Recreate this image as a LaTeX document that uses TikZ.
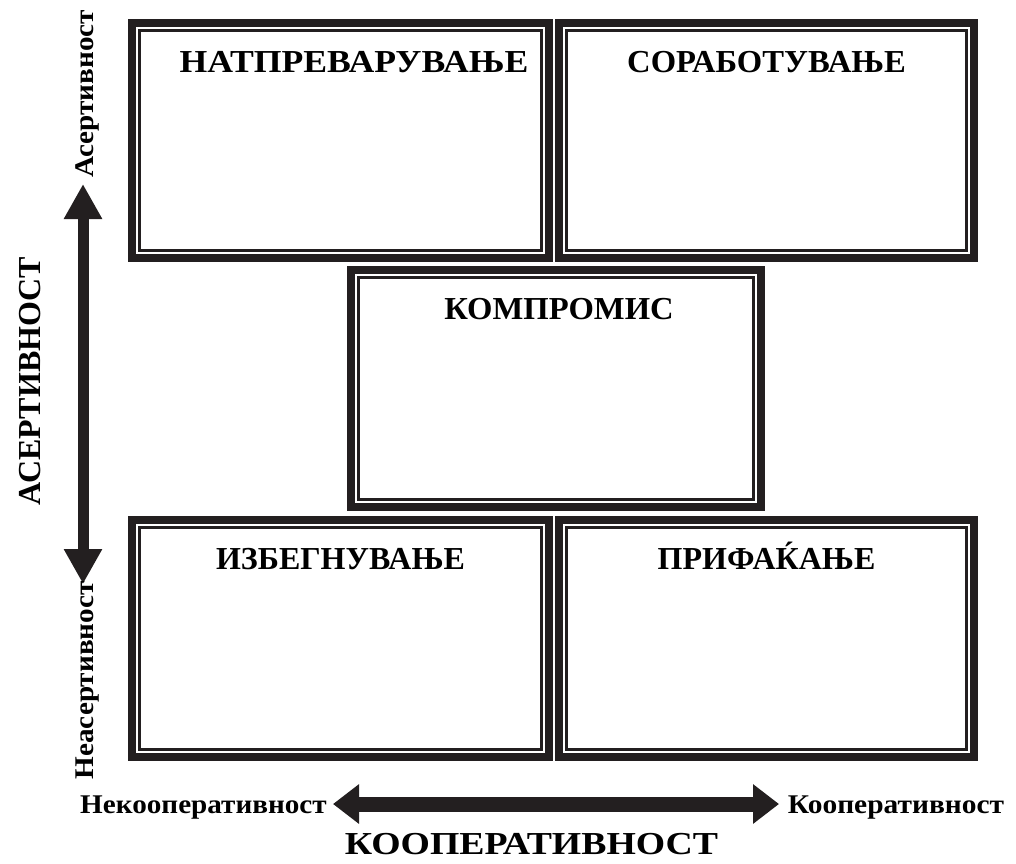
\documentclass[tikz,border=0pt]{standalone}
\usepackage{fontspec}
\setmainfont{Liberation Serif}
\usetikzlibrary{arrows.meta}
\definecolor{ink}{RGB}{35,31,32}
% widen a label along its reading direction
\newcommand\widelabel[2]{\scalebox{#1}[1]{#2}}
\begin{document}
\begin{tikzpicture}[x=1pt,y=-1pt,
  quad/.style={draw=ink, line width=8pt, outer sep=0pt, inner sep=0pt},
  innerline/.style={draw=ink, line width=3pt},
  title/.style={anchor=base, inner sep=0pt, font=\bfseries\fontsize{32}{38}\selectfont},
  smalllabel/.style={anchor=base, inner sep=0pt, font=\bfseries\fontsize{27}{32}\selectfont},
  biglabel/.style={anchor=base, inner sep=0pt, font=\bfseries\fontsize{32}{38}\selectfont},
  varrow/.style={draw=ink, line width=11pt, {Triangle[width=36pt,length=35pt]}-{Triangle[width=36pt,length=35pt]}},
  harrow/.style={draw=ink, line width=15pt, {Triangle[width=38pt,length=26pt]}-{Triangle[width=38pt,length=26pt]}},
]
\useasboundingbox[fill=white] (0,0) rectangle (1016,863);

% the five style boxes
\node[quad, minimum width=417pt, minimum height=235pt] (tl)  at (340.5,140.5) {};
\node[quad, minimum width=415pt, minimum height=235pt] (tr)  at (766.5,140.5) {};
\node[quad, minimum width=410pt, minimum height=237pt] (mid) at (556,388.5) {};
\node[quad, minimum width=417pt, minimum height=237pt] (bl)  at (340.5,638.5) {};
\node[quad, minimum width=415pt, minimum height=237pt] (br)  at (766.5,638.5) {};
\foreach \b in {tl,tr,mid,bl,br}
  \draw[innerline] ([shift={(7.5,7.5)}]\b.north west) rectangle ([shift={(-7.5,-7.5)}]\b.south east);

% box titles
\node[title] (tl-t)  at (354,72)    {\widelabel{1.115}{НАТПРЕВАРУВАЊЕ}};
\node[title] (tr-t)  at (766.5,72)  {\widelabel{1.02}{СОРАБОТУВАЊЕ}};
\node[title] (mid-t) at (559,319)   {\widelabel{1.02}{КОМПРОМИС}};
\node[title] (bl-t)  at (340.5,569) {ИЗБЕГНУВАЊЕ};
\node[title] (br-t)  at (766.5,569) {ПРИФАЌАЊЕ};

% assertiveness axis
\coordinate (v-top) at (83,184);
\coordinate (v-bot) at (83,584);
\draw[varrow] (v-bot) -- (v-top);
\node[smalllabel, rotate=90] (asr)  at (93,94)    {\widelabel{1.08}{Асертивност}};
\node[smalllabel, rotate=90] (nasr) at (93,680.5) {\widelabel{1.08}{Неасертивност}};
\node[biglabel, rotate=90]   (asr-big) at (40,381) {АСЕРТИВНОСТ};

% cooperativeness axis
\coordinate (h-left)  at (333,804);
\coordinate (h-right) at (779,804);
\draw[harrow] (h-left) -- (h-right);
\node[smalllabel] (nco) at (203.5,813) {\widelabel{1.08}{Некооперативност}};
\node[smalllabel] (co)  at (896,813)   {\widelabel{1.09}{Кооперативност}};
\node[biglabel]   (co-big) at (531.5,854) {\widelabel{1.18}{КООПЕРАТИВНОСТ}};
\end{tikzpicture}
\end{document}
